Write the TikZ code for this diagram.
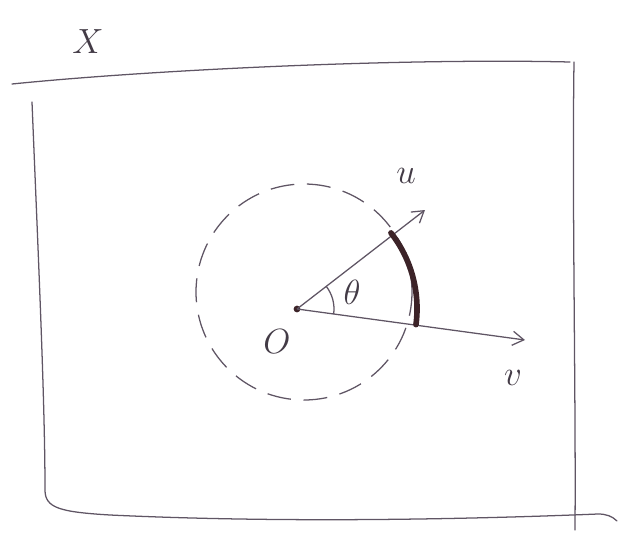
\documentclass[tikz,border=0pt]{standalone}
\usepackage{xcolor}
\definecolor{pencil}{RGB}{95, 85, 100}
\definecolor{inkdark}{RGB}{60, 35, 40}
\usetikzlibrary{arrows.meta}

\begin{document}
\begin{tikzpicture}[
  x=0.025cm, y=-0.025cm,
  frame/.style={draw=pencil, line width=0.9pt, line cap=round},
  vec/.style={draw=pencil, line width=0.9pt, -{Straight Barb[length=8pt, width=10pt]}},
  ball/.style={draw=pencil, line width=0.9pt, dash pattern=on 17pt off 9pt},
  chord/.style={draw=inkdark, line width=4pt, line cap=round},
  lab/.style={text=pencil!70!black, font=\fontsize{30}{36}\selectfont, inner sep=0pt}
]
  \useasboundingbox (0,0) rectangle (620,540);

  % Points
  \coordinate (O) at (297,309);
  \coordinate (utip) at (425,210);
  \coordinate (vtip) at (525,340);
  \coordinate (ctr) at (304,292);

  % Frame of X
  \draw[frame] (12,84) .. controls (150,70) and (400,58) .. (570,62);
  \draw[frame] (574,62) .. controls (572,200) and (576,400) .. (575,530);
  \draw[frame] (32,102) .. controls (38,250) and (45,400) .. (45,490)
    .. controls (45,508) and (60,512) .. (110,515)
    .. controls (300,524) and (500,518) .. (598,514)
    .. controls (606,514) and (612,516) .. (617,521);
  \node[lab] (xlab) at (88,42) {$X$};

  % Ball
  \draw[ball] (ctr) circle (108);

  % Vectors
  \fill[inkdark] (O) circle (2.4pt);
  \path[vec] (O) -- (utip);
  \path[vec] (O) -- (vtip);
  \node[lab] (ulab) at (406,176) {$u$};
  \node[lab] (vlab) at (513,378) {$v$};
  \node[lab] (olab) at (277,342) {$O$};

  % Angle and arc (y axis points down, so angles run clockwise)
  \draw[pencil, line width=0.9pt] ([shift={(8:37)}]O) arc (8:-38:37);
  \node[lab, font=\fontsize{24}{28}\selectfont] (thlab) at (352,292) {$\theta$};
  \draw[chord] ([shift={(7.5:120)}]O) arc (7.5:-38:123);
\end{tikzpicture}
\end{document}
